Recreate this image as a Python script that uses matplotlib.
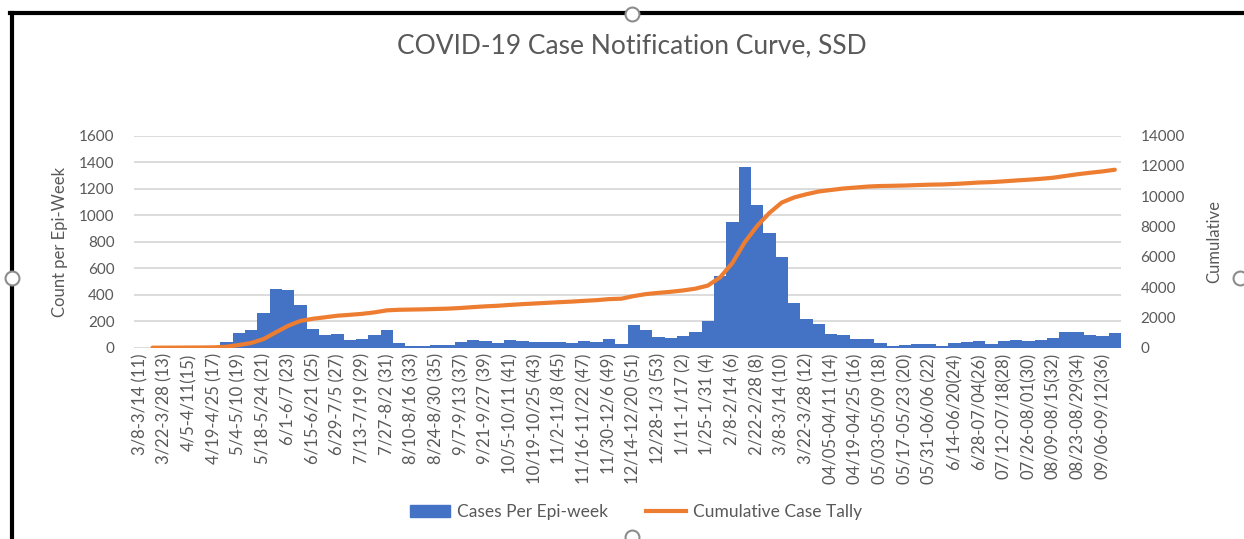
import numpy as np
import matplotlib.pyplot as plt
from matplotlib.patches import Patch
from matplotlib.lines import Line2D

plt.rcParams['font.family'] = ['Lato', 'DejaVu Sans']

# every other epi-week is labelled on the axis (80 weeks, 40 labels)
tick_labels = [
    "3/8-3/14 (11)", "3/22-3/28 (13)", "4/5-4/11(15)", "4/19-4/25 (17)",
    "5/4-5/10 (19)", "5/18-5/24 (21)", "6/1-6/7 (23)", "6/15-6/21 (25)",
    "6/29-7/5 (27)", "7/13-7/19 (29)", "7/27-8/2 (31)", "8/10-8/16 (33)",
    "8/24-8/30 (35)", "9/7-9/13 (37)", "9/21-9/27 (39)", "10/5-10/11 (41)",
    "10/19-10/25 (43)", "11/2-11/8 (45)", "11/16-11/22 (47)", "11/30-12/6 (49)",
    "12/14-12/20 (51)", "12/28-1/3 (53)", "1/11-1/17 (2)", "1/25-1/31 (4)",
    "2/8-2/14 (6)", "2/22-2/28 (8)", "3/8-3/14 (10)", "3/22-3/28 (12)",
    "04/05-04/11 (14)", "04/19-04/25 (16)", "05/03-05/09 (18)", "05/17-05/23 (20)",
    "05/31-06/06 (22)", "6/14-06/20(24)", "6/28-07/04(26)", "07/12-07/18(28)",
    "07/26-08/01(30)", "08/09-08/15(32)", "08/23-08/29(34)", "09/06-09/12(36)",
]

# weekly cases (first week has no value)
cases = [
    np.nan, 1, 2, 3, 5, 4, 8, 43, 113, 133,
    259, 445, 435, 320, 141, 98, 103, 58, 65, 98,
    133, 38, 15, 15, 23, 23, 43, 58, 50, 38,
    58, 50, 43, 43, 43, 38, 50, 45, 68, 28,
    171, 133, 81, 71, 88, 118, 201, 543, 951, 1366,
    1077, 863, 687, 335, 214, 179, 103, 96, 65, 65,
    35, 13, 20, 28, 28, 13, 35, 43, 50, 28,
    50, 58, 50, 58, 73, 116, 116, 96, 88, 111,
]

# cumulative case tally
cumulative = [
    np.nan, 1, 3, 6, 11, 15, 23, 66, 179, 312,
    571, 1016, 1451, 1771, 1912, 2010, 2113, 2171, 2236, 2334,
    2467, 2505, 2520, 2535, 2558, 2581, 2624, 2682, 2732, 2770,
    2828, 2878, 2921, 2964, 3007, 3045, 3095, 3140, 3208, 3236,
    3407, 3540, 3621, 3692, 3780, 3898, 4099, 4642, 5593, 6959,
    8036, 8899, 9586, 9921, 10135, 10314, 10417, 10513, 10578, 10643,
    10678, 10691, 10711, 10739, 10767, 10780, 10815, 10858, 10908, 10936,
    10986, 11044, 11094, 11152, 11225, 11341, 11457, 11553, 11641, 11752,
]

gray = "#595959"
blue = "#4472C4"
orange = "#ED7D31"

fig = plt.figure(figsize=(12.44, 5.39), dpi=100)
W, H = 1244, 539
ax = fig.add_axes([134 / W, 1 - 347.7 / H, 987 / W, 212 / H])
ax2 = ax.twinx()

x = np.arange(len(cases))
ax.bar(x, cases, width=1.0, color=blue, zorder=2)
ax2.plot(x, cumulative, color=orange, lw=3, solid_capstyle="round", solid_joinstyle="round")

ax.set_xlim(-0.5, len(cases) - 0.5)
ax.set_ylim(0, 1600)
ax2.set_ylim(0, 14000)
ax.set_yticks(range(0, 1601, 200))
ax2.set_yticks(range(0, 14001, 2000))
ax.set_xticks(x[::2])
ax.set_xticklabels(tick_labels, rotation=90, ha="center", va="top", fontsize=12, color=gray)

ax.grid(axis="y", color="#d9d9d9", lw=1.3, zorder=0)
ax.set_axisbelow(True)
for a in (ax, ax2):
    for s in a.spines.values():
        s.set_visible(False)
ax.tick_params(axis="y", length=0, pad=14, labelsize=11, labelcolor=gray)
ax.tick_params(axis="x", length=0, pad=4)
ax2.tick_params(axis="y", length=0, pad=14, labelsize=11, labelcolor=gray)

ax.set_ylabel("Count per Epi-Week", fontsize=12, color=gray)
ax.yaxis.set_label_coords(-0.067, 0.5)
ax2.set_ylabel("Cumulative", fontsize=12, color=gray)
ax2.yaxis.set_label_coords(1.086, 0.5)

fig.text(632 / W, 1 - 46 / H, "COVID-19 Case Notification Curve, SSD",
         ha="center", va="center", fontsize=19, color=gray)

handles = [Patch(color=blue), Line2D([0], [0], color=orange, lw=3)]
fig.legend(handles, ["Cases Per Epi-week", "Cumulative Case Tally"],
           loc="center", bbox_to_anchor=(636 / W, 1 - 512 / H), ncol=2,
           frameon=False, fontsize=12.5, labelcolor=gray,
           handlelength=2.3, handletextpad=0.4, columnspacing=2.2)

# screenshot frame and selection handles
fig.add_artist(Line2D([10 / W, 1], [1 - 13 / H, 1 - 13 / H], color="black", lw=3))
fig.add_artist(Line2D([12 / W, 12 / W], [0, 1 - 13 / H], color="black", lw=3))
for cx, cy in [(632, 14), (12, 278), (1240, 278), (632, 537)]:
    fig.add_artist(Line2D([cx / W], [1 - cy / H], marker="o", markersize=10,
                          mfc="white", mec="#8c8c8c", mew=1.5, transform=fig.transFigure))

fig.savefig("out.png", dpi=100)
